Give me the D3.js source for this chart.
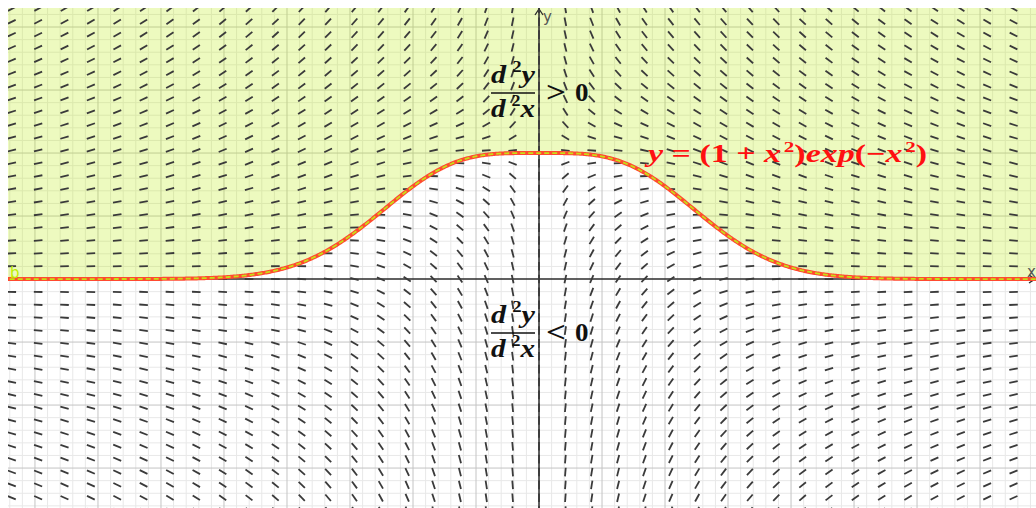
<!DOCTYPE html>
<html>
<head>
<meta charset="utf-8">
<script src="https://cdn.jsdelivr.net/npm/d3@7"></script>
<style>
  html, body { margin: 0; padding: 0; background: #fff; overflow: hidden; }
  svg { display: block; }
</style>
</head>
<body>
<svg id="chart" width="1036" height="508"></svg>
<script>
// ---- viewing window (world units) ----
const xView = [-4.214, 3.944];
const yView = [-1.817, 2.151];

// ---- grid spacing ----
const gridMajor = 0.5;
const gridMinor = 0.1;

// ---- slope-field sampling lattice ----
const fieldStep = [0.2092, 0.1021];          // world step in x, y
const fieldCols = d3.range(-20, 19);          // column indices (x = i * step)
const fieldRows = d3.range(-18, 22);          // row indices    (y = j * step)

// ---- texts ----
const curveLabel = [
  { t: "y", it: true }, { t: " = (1 + " }, { t: "x", it: true }, { t: "2", sup: true },
  { t: ")" }, { t: "exp", it: true }, { t: "(\u2212" }, { t: "x", it: true }, { t: "2", sup: true }, { t: ")" }
];
const fracNum = [{ t: "d", it: true }, { t: "2", sup: true, gap: 0.2 }, { t: "y", it: true }];
const fracDen = [{ t: "d", it: true }, { t: "2", sup: true, gap: 0.2 }, { t: "x", it: true }];
const regionSigns = [">", "<"];
const axisNames = ["x", "y"];
const regionName = "b";

// ---- curve and slope field ----
const Y = x => (1 + x * x) * Math.exp(-x * x);
// direction of the field at (x, y): dy/dx = (Y(x) - y) / x
const dir = (x, y) => [x, Y(x) - y];

const W = 1036, H = 508, L = 8, T = 8;
const sx = d3.scaleLinear().domain(xView).range([L, W]);
const sy = d3.scaleLinear().domain(yView).range([H, T]);

const svg = d3.select("#chart");
svg.append("rect").attr("width", W).attr("height", H).attr("fill", "#fff");
svg.append("clipPath").attr("id", "clip")
  .append("rect").attr("x", L).attr("y", T).attr("width", W - L).attr("height", H - T);
const g = svg.append("g").attr("clip-path", "url(#clip)");

// ---- grid ----
const ticksOf = (dom, step) => d3.range(Math.ceil(dom[0] / step), Math.floor(dom[1] / step) + 1).map(k => +(k * step).toFixed(6));
const isMajor = v => Math.abs(v / gridMajor - Math.round(v / gridMajor)) < 1e-6;
const gx = ticksOf(xView, gridMinor), gy = ticksOf(yView, gridMinor);

g.append("g").selectAll("line").data(gx.filter(v => !isMajor(v))).join("line")
  .attr("x1", d => sx(d)).attr("x2", d => sx(d)).attr("y1", T).attr("y2", H)
  .attr("stroke", "#e8e8e8").attr("stroke-width", 1);
g.append("g").selectAll("line").data(gy.filter(v => !isMajor(v))).join("line")
  .attr("y1", d => sy(d)).attr("y2", d => sy(d)).attr("x1", L).attr("x2", W)
  .attr("stroke", "#e8e8e8").attr("stroke-width", 1);
g.append("g").selectAll("line").data(gx.filter(v => isMajor(v) && v !== 0)).join("line")
  .attr("x1", d => sx(d)).attr("x2", d => sx(d)).attr("y1", T).attr("y2", H)
  .attr("stroke", "#c4c4c4").attr("stroke-width", 1);
g.append("g").selectAll("line").data(gy.filter(v => isMajor(v) && v !== 0)).join("line")
  .attr("y1", d => sy(d)).attr("y2", d => sy(d)).attr("x1", L).attr("x2", W)
  .attr("stroke", "#c4c4c4").attr("stroke-width", 1);

// ---- region b : y > (1 + x^2) exp(-x^2) ----
const xs = d3.range(xView[0] - 0.05, xView[1] + 0.05, 0.01);
g.append("path")
  .datum(xs)
  .attr("d", d3.area().x(d => sx(d)).y0(d => sy(Y(d))).y1(sy(yView[1]) - 2))
  .attr("fill", "rgb(185,235,0)").attr("fill-opacity", 0.25);

// ---- axes ----
const axisColor = "#2b2b2b";
g.append("line").attr("x1", L).attr("x2", W).attr("y1", sy(0)).attr("y2", sy(0))
  .attr("stroke", axisColor).attr("stroke-width", 1.5);
g.append("line").attr("x1", sx(0)).attr("x2", sx(0)).attr("y1", T).attr("y2", H)
  .attr("stroke", axisColor).attr("stroke-width", 1.5);
g.append("path")
  .attr("d", `M${sx(0) - 4},${T + 7} L${sx(0)},${T + 1} L${sx(0) + 4},${T + 7}`)
  .attr("fill", "none").attr("stroke", axisColor).attr("stroke-width", 1.3);
g.append("path")
  .attr("d", `M${W - 7},${sy(0) - 4} L${W - 1},${sy(0)} L${W - 7},${sy(0) + 4}`)
  .attr("fill", "none").attr("stroke", axisColor).attr("stroke-width", 1.3);

// ---- slope field ----
const pts = [];
fieldCols.forEach(i => fieldRows.forEach(j => pts.push([i * fieldStep[0], j * fieldStep[1]])));
const half = 4.3;
const seg = pts.map(([x, y]) => {
  let [vx, vy] = dir(x, y);
  const n = Math.hypot(vx, vy) || 1;
  vx /= n; vy /= n;
  return { x, y, vx, vy };
});
g.append("g").selectAll("line").data(seg).join("line")
  .attr("x1", d => sx(d.x) - half * d.vx).attr("y1", d => sy(d.y) + half * d.vy)
  .attr("x2", d => sx(d.x) + half * d.vx).attr("y2", d => sy(d.y) - half * d.vy)
  .attr("stroke", "#3a3a3a").attr("stroke-width", 1.8);

// ---- curve and dashed boundary of b ----
const line = d3.line().x(d => sx(d)).y(d => sy(Y(d)));
g.append("path").datum(xs).attr("d", line)
  .attr("fill", "none").attr("stroke", "#ff4a30").attr("stroke-width", 4);
g.append("path").datum(xs).attr("d", line)
  .attr("fill", "none").attr("stroke", "rgb(200,222,20)").attr("stroke-width", 1.8)
  .attr("stroke-dasharray", "5,3");

// ---- labels ----
const serif = "'Liberation Serif', 'DejaVu Serif', serif";
function richText(parent, parts, x, y, size, color, len) {
  const t = parent.append("text").attr("x", x).attr("y", y)
    .attr("font-family", serif).attr("font-weight", "bold").attr("font-size", size)
    .attr("fill", color).attr("xml:space", "preserve");
  if (len) t.attr("textLength", len).attr("lengthAdjust", "spacingAndGlyphs");
  let up = false;
  parts.forEach(p => {
    const s = t.append("tspan").text(p.t).attr("font-style", p.it ? "italic" : "normal");
    if (p.sup) {
      s.attr("font-size", size * 0.62).attr("dy", -size * 0.42).attr("dx", size * (p.gap || 0.08));
      up = true;
    } else if (up) { s.attr("dy", size * 0.42); up = false; }
  });
  return t;
}

// fractions d²y/d²x with sign
[93, 333].forEach((bar, k) => {
  const cx = 513;
  richText(svg, fracNum, cx - 22, bar - 10.5, 26, "#111", 44);
  richText(svg, fracDen, cx - 22, bar + 24, 26, "#111", 44);
  svg.append("line").attr("x1", cx - 22).attr("x2", cx + 22).attr("y1", bar).attr("y2", bar)
    .attr("stroke", "#111").attr("stroke-width", 1.5);
  svg.append("text").attr("x", 546).attr("y", bar + 8.5)
    .attr("font-family", serif).attr("font-weight", "bold").attr("font-size", 30).attr("fill", "#111")
    .attr("textLength", 20).attr("lengthAdjust", "spacingAndGlyphs")
    .text(regionSigns[k]);
  svg.append("text").attr("x", 575).attr("y", bar + 7.5)
    .attr("font-family", serif).attr("font-weight", "bold").attr("font-size", 25).attr("fill", "#111")
    .attr("textLength", 13.5).attr("lengthAdjust", "spacingAndGlyphs")
    .text("0");
});

// equation of the curve
richText(svg, curveLabel, 648, 162, 25, "#ff1010", 279);

// axis names and region name
svg.append("text").attr("x", 1027).attr("y", 277).attr("font-family", "'DejaVu Sans', sans-serif")
  .attr("font-size", 15).attr("fill", "#555").text(axisNames[0]);
svg.append("text").attr("x", 543).attr("y", 22).attr("font-family", "'DejaVu Sans', sans-serif")
  .attr("font-size", 15).attr("fill", "#555").text(axisNames[1]);
svg.append("text").attr("x", 10).attr("y", 278).attr("font-family", "'DejaVu Sans', sans-serif")
  .attr("font-size", 15).attr("fill", "rgb(190,238,0)").text(regionName);
</script>
</body>
</html>
